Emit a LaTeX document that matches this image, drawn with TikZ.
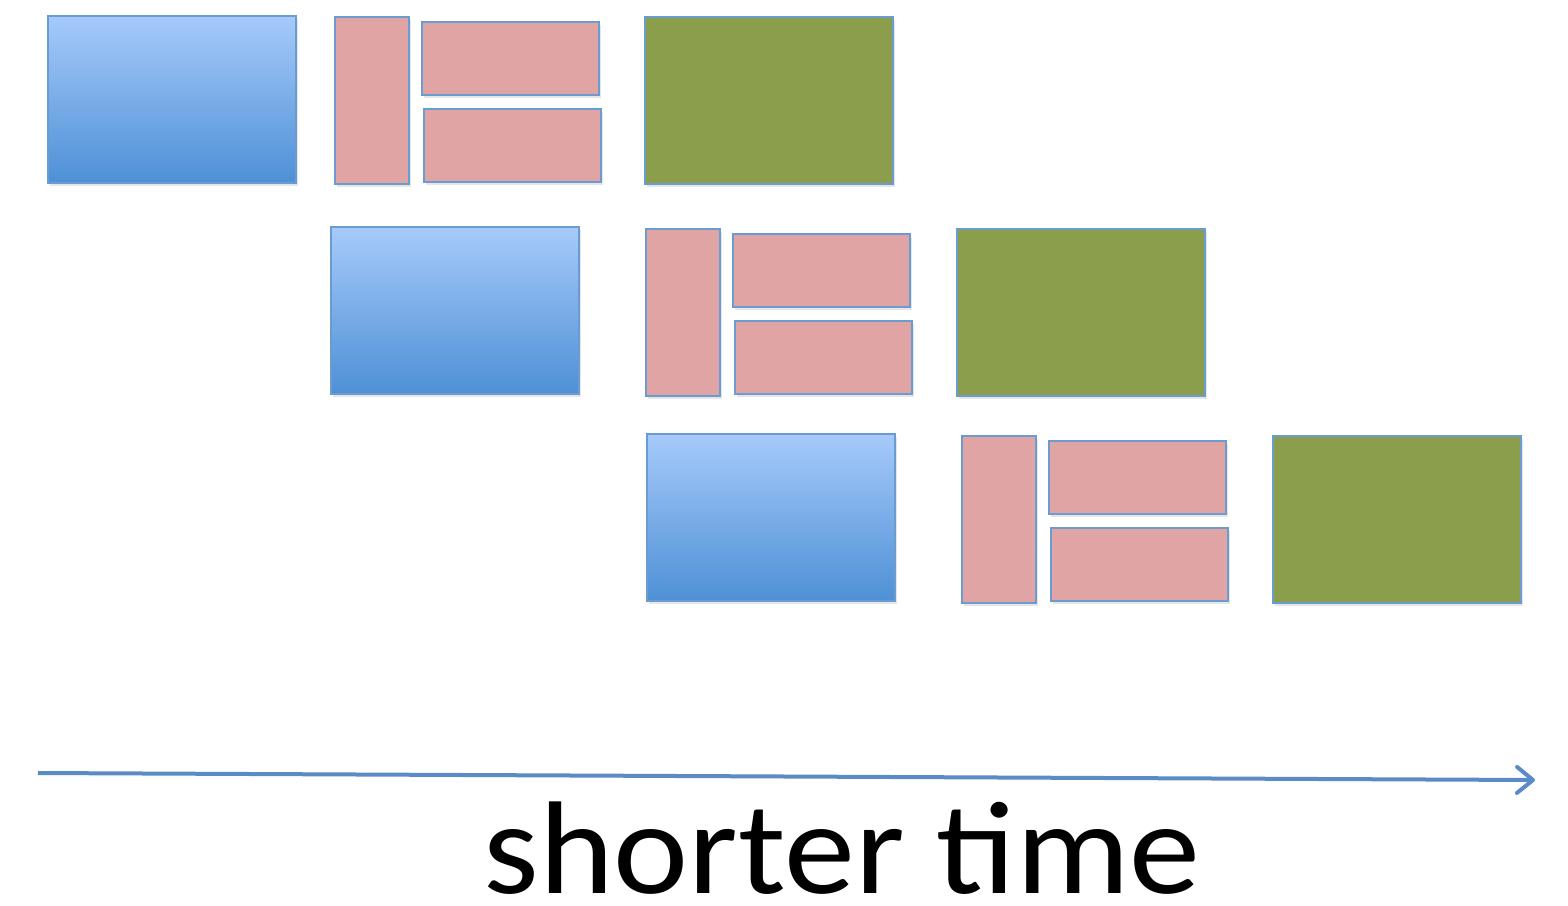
\documentclass[tikz,border=0pt]{standalone}
\usepackage{fontspec}
\setmainfont{Carlito}
\usetikzlibrary{arrows.meta, shadows}

\definecolor{edgeblue}{HTML}{6A9BD1}
\definecolor{topblue}{HTML}{A6CAFA}
\definecolor{botblue}{HTML}{4E90D6}
\definecolor{pinkfill}{HTML}{E0A4A4}
\definecolor{greenfill}{HTML}{8A9E4B}
\definecolor{axisblue}{HTML}{5B8BC6}

\tikzset{
    block/.style={draw=edgeblue, line width=1.2pt, anchor=north west, inner sep=0pt,
        drop shadow={opacity=0.2, shadow xshift=1pt, shadow yshift=-1.5pt}},
    loadbox/.style={block, top color=topblue, bottom color=botblue,
        minimum width=124pt, minimum height=83.5pt},
    tallbox/.style={block, fill=pinkfill, minimum width=37pt, minimum height=83.5pt},
    widebox/.style={block, fill=pinkfill, minimum width=88.5pt, minimum height=36.5pt},
    storebox/.style={block, fill=greenfill, minimum width=124pt, minimum height=83.5pt}
}

\begin{document}
\begin{tikzpicture}[x=0.5pt,y=-0.5pt]
        \useasboundingbox (0,0) rectangle (1568,905);

        % first row
        \node[loadbox]  (load1)  at (47,15)   {};
        \node[tallbox]  (tall1)  at (334,16)  {};
        \node[widebox]  (upper1) at (421,21)  {};
        \node[widebox]  (lower1) at (423,108) {};
        \node[storebox] (store1) at (644,16)  {};

        % second row
        \node[loadbox]  (load2)  at (330,226) {};
        \node[tallbox]  (tall2)  at (645,228) {};
        \node[widebox]  (upper2) at (732,233) {};
        \node[widebox]  (lower2) at (734,320) {};
        \node[storebox] (store2) at (956,228) {};

        % third row
        \node[loadbox]  (load3)  at (646,433)  {};
        \node[tallbox]  (tall3)  at (961,435)  {};
        \node[widebox]  (upper3) at (1048,440) {};
        \node[widebox]  (lower3) at (1050,527) {};
        \node[storebox] (store3) at (1272,435) {};

        % the time axis
        \coordinate (tstart) at (38,773);
        \coordinate (tend)   at (1535,780);
        \draw[-{Straight Barb[length=8pt,width=13pt,round]}, color=axisblue, line width=2pt,
              drop shadow={opacity=0.2, shadow xshift=1pt, shadow yshift=-1.5pt}]
              (tstart) -- (tend);
        \node[anchor=base, font=\fontsize{66}{70}\selectfont, inner sep=0pt, text depth=0pt]
              (caption) at (842,893) {\scalebox{1.077}[1]{shorter time}};
    \end{tikzpicture}
\end{document}
